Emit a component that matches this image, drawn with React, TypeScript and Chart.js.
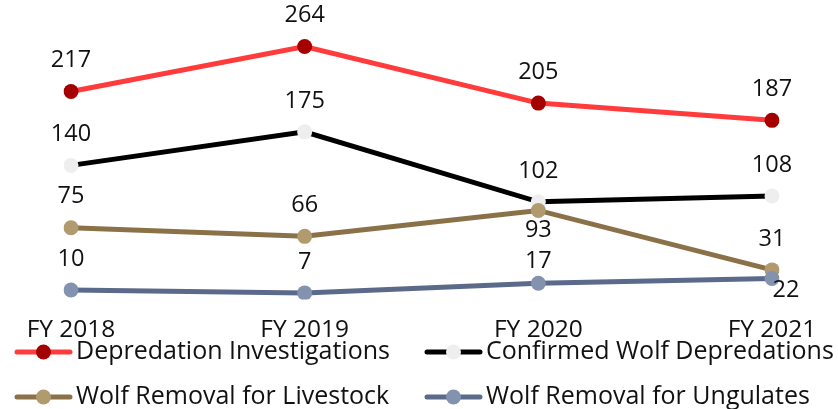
import React, { useEffect, useRef } from "react";
import { Chart, registerables } from "chart.js";

Chart.register(...registerables);

const categories = ["FY 2018", "FY 2019", "FY 2020", "FY 2021"];
const depredationInvestigations = [217, 264, 205, 187];
const confirmedWolfDepredations = [140, 175, 102, 108];
const wolfRemovalLivestock = [75, 66, 93, 31];
const wolfRemovalUngulates = [10, 7, 17, 22];
const seriesNames = [
  "Depredation Investigations",
  "Confirmed Wolf Depredations",
  "Wolf Removal for Livestock",
  "Wolf Removal for Ungulates",
];

const FONT = "'Open Sans', sans-serif";
const LABEL_SIZE = 23.5;
const TICK_SIZE = 24.5;
const LEGEND_SIZE = 25;

const lineColors = ["#FF3B3B", "#000000", "#8A7148", "#5B6A8A"];
const markerColors = ["#A50000", "#EEEEEE", "#B09A6E", "#8392AE"];

// label placement tweaks: "dataset-index" -> [dx, dy]
const labelShift: Record<string, [number, number]> = {
  "2-2": [0, 20],
  "3-2": [0, -22],
  "3-3": [14, 12],
};

const dataLabelPlugin = {
  id: "dataLabels",
  afterDatasetsDraw(chart: any) {
    const ctx = chart.ctx;
    ctx.save();
    ctx.font = `${LABEL_SIZE}px ${FONT}`;
    ctx.fillStyle = "#111";
    ctx.textAlign = "center";
    ctx.textBaseline = "middle";
    chart.data.datasets.forEach((ds: any, di: number) => {
      const meta = chart.getDatasetMeta(di);
      meta.data.forEach((pt: any, i: number) => {
        const s = labelShift[`${di}-${i}`] || [0, -31];
        ctx.fillText(String(ds.data[i]), pt.x + s[0], pt.y + s[1]);
      });
    });
    ctx.restore();
  },
};

const legendPlugin = {
  id: "customLegend",
  afterDraw(chart: any) {
    const ctx = chart.ctx;
    const cols = [15, 425];
    const rows = [352, 397];
    ctx.save();
    chart.data.datasets.forEach((ds: any, di: number) => {
      const x = cols[di % 2];
      const y = rows[Math.floor(di / 2)];
      ctx.strokeStyle = ds.borderColor;
      ctx.lineWidth = 5;
      ctx.lineCap = "round";
      ctx.beginPath();
      ctx.moveTo(x + 2, y);
      ctx.lineTo(x + 55, y);
      ctx.stroke();
      ctx.fillStyle = ds.pointBackgroundColor;
      ctx.beginPath();
      ctx.arc(x + 28.5, y, 7.5, 0, Math.PI * 2);
      ctx.fill();
      ctx.fillStyle = "#111";
      ctx.font = `${LEGEND_SIZE}px ${FONT}`;
      ctx.textAlign = "left";
      ctx.textBaseline = "middle";
      ctx.fillText(ds.label, x + 61, y);
    });
    ctx.restore();
  },
};

export default function App() {
  const ref = useRef<HTMLCanvasElement | null>(null);
  useEffect(() => {
    if (!ref.current) return;
    const series = [
      depredationInvestigations,
      confirmedWolfDepredations,
      wolfRemovalLivestock,
      wolfRemovalUngulates,
    ];
    const chart = new Chart(ref.current, {
      type: "line",
      data: {
        labels: categories,
        datasets: series.map((d, i) => ({
          label: seriesNames[i],
          data: d,
          borderColor: lineColors[i],
          backgroundColor: markerColors[i],
          pointBackgroundColor: markerColors[i],
          pointBorderWidth: 0,
          pointRadius: 7.5,
          borderWidth: 5,
          tension: 0,
          order: 4 - i,
        })),
      },
      options: {
        responsive: false,
        animation: false,
        devicePixelRatio: 1,
        layout: { padding: { left: 71, right: 66, top: 12, bottom: 48 } },
        plugins: {
          legend: { display: false },
          tooltip: { enabled: false },
          title: { display: false },
        },
        scales: {
          x: {
            offset: false,
            grid: { display: false, drawTicks: false },
            border: { display: false },
            ticks: {
              padding: 16,
              color: "#111",
              font: { family: FONT, size: TICK_SIZE },
              maxRotation: 0,
              autoSkip: false,
            },
          },
          y: {
            display: false,
            min: 0,
            max: 300,
          },
        },
      },
      plugins: [dataLabelPlugin, legendPlugin],
    });
    return () => chart.destroy();
  }, []);
  return (
    <div style={{ position: "fixed", left: 0, top: 0, width: 838, height: 409, background: "#fff" }}>
      <canvas ref={ref} width={838} height={409} style={{ width: 838, height: 409 }} />
    </div>
  );
}
